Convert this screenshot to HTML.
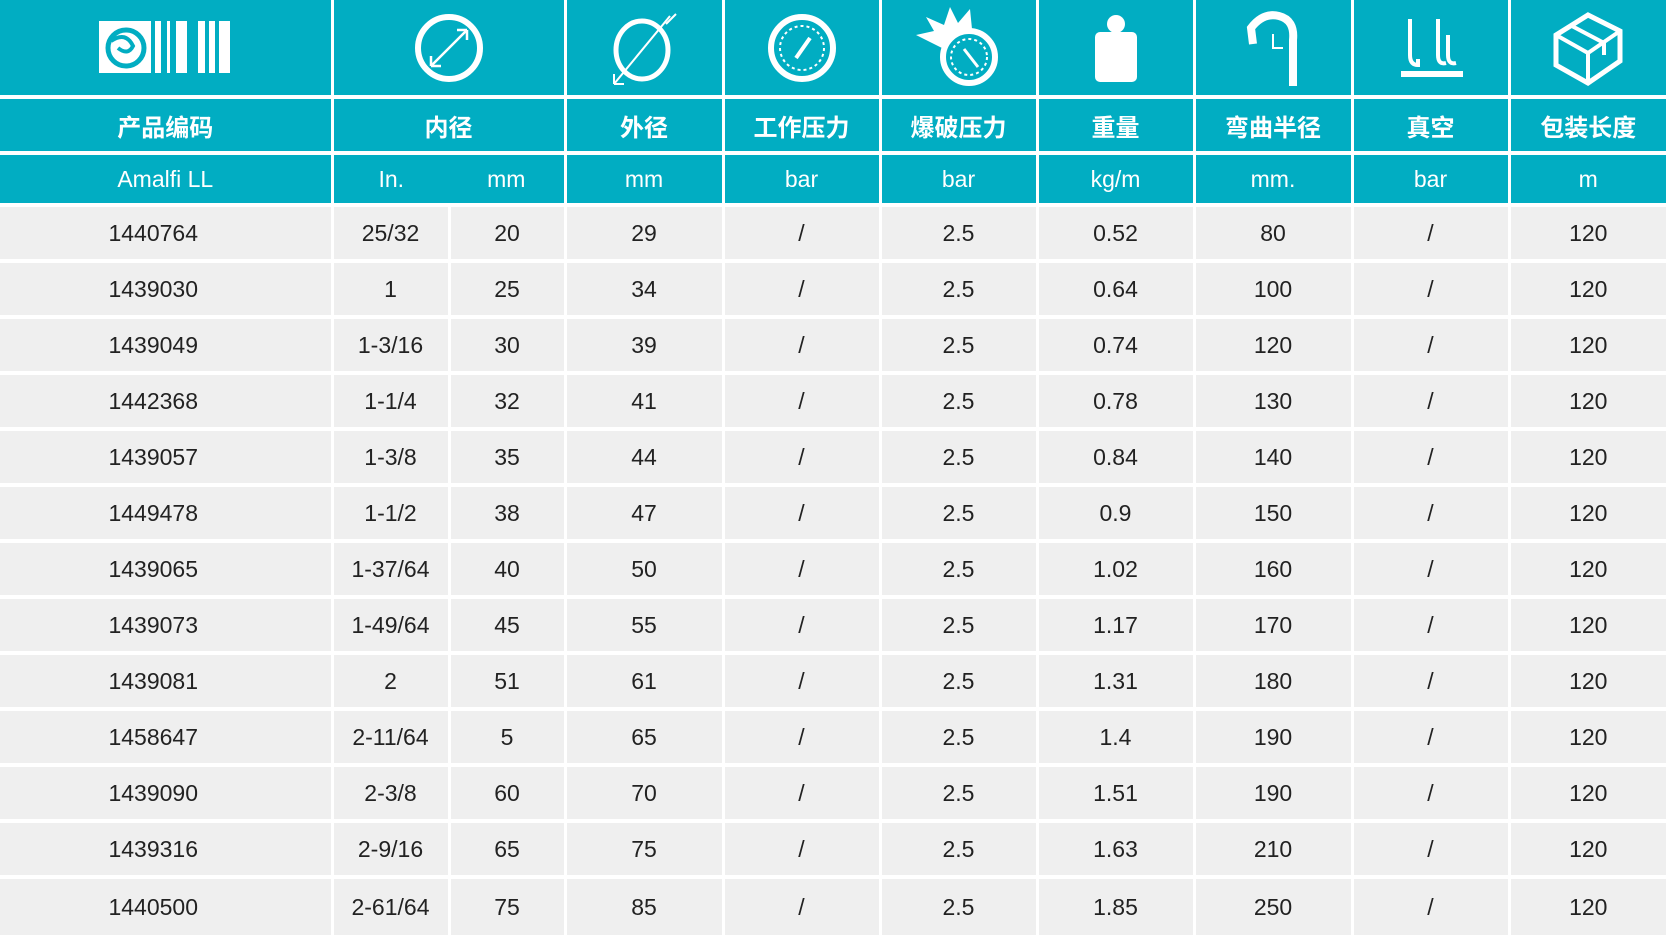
<!DOCTYPE html>
<html><head><meta charset="utf-8"><style>
html,body{margin:0;padding:0;background:#fff;width:1666px;height:935px;overflow:hidden}
table{border-collapse:collapse;table-layout:fixed;width:1666px;font-family:"Liberation Sans","Noto Sans CJK SC",sans-serif}
td{padding:0;text-align:center;vertical-align:middle;border-right:3px solid #fff;border-bottom:4px solid #fff;box-sizing:border-box}
td:last-child{border-right:none}
.h td{background:#01adc2;color:#fff}
.i td{height:97px}
.c td{height:56px;font-weight:bold;font-size:24px;font-family:"Noto Sans CJK SC",sans-serif}
.u td{height:52px;font-size:23px}
.d td{background:#efefef;color:#222;height:56px;font-size:23px}
.d td:first-child{padding-right:24px}
.d:last-child td{height:58px;border-bottom:none}
svg{display:block;margin:0 auto}
</style></head><body>
<table>
<colgroup><col style="width:332px"><col style="width:117px"><col style="width:116px"><col style="width:158px"><col style="width:157px"><col style="width:157px"><col style="width:157px"><col style="width:158px"><col style="width:157px"><col style="width:157px"></colgroup>
<tr class="h i">
<td><svg width="132" height="54" viewBox="0 0 132 54"><rect x="0" y="0" width="52" height="52" fill="#fff"/><circle cx="27" cy="27" r="18" fill="none" stroke="#01adc2" stroke-width="5"/><path d="M12 20 q15 -10 22 5 q-5 10 -15 2" fill="none" stroke="#01adc2" stroke-width="4"/><rect x="56" y="0" width="6" height="52" fill="#fff"/><rect x="68" y="0" width="3" height="52" fill="#fff"/><rect x="77" y="0" width="11" height="52" fill="#fff"/><rect x="99" y="0" width="7" height="52" fill="#fff"/><rect x="110" y="0" width="6" height="52" fill="#fff"/><rect x="120" y="0" width="11" height="52" fill="#fff"/></svg></td>
<td colspan="2"><svg width="72" height="72" viewBox="0 0 72 72"><circle cx="36" cy="36" r="31" fill="none" stroke="#fff" stroke-width="6"/><path d="M18 54 L54 18 M18 54 l0 -10 M18 54 l10 0 M54 18 l-10 0 M54 18 l0 10" stroke="#fff" stroke-width="2.5" fill="none"/></svg></td>
<td><svg width="76" height="76" viewBox="0 0 76 76"><ellipse cx="36" cy="40" rx="26" ry="29" fill="none" stroke="#fff" stroke-width="5"/><path d="M8 74 L64 6 M8 74 l0 -10 M8 74 l10 0 M70 4 l-10 10" stroke="#fff" stroke-width="2" fill="none"/></svg></td>
<td><svg width="72" height="72" viewBox="0 0 72 72"><circle cx="36" cy="36" r="31" fill="none" stroke="#fff" stroke-width="6"/><circle cx="36" cy="36" r="22" fill="none" stroke="#fff" stroke-width="2" stroke-dasharray="3 3"/><path d="M30 46 L44 26" stroke="#fff" stroke-width="4"/></svg></td>
<td><svg width="90" height="86" viewBox="0 0 90 86"><path d="M2 30 L20 26 L12 12 L30 20 L36 2 L44 18 L56 4 L58 24 L30 44 Z" fill="#fff"/><circle cx="55" cy="52" r="26" fill="#01adc2" stroke="#fff" stroke-width="6"/><circle cx="55" cy="52" r="18" fill="none" stroke="#fff" stroke-width="2" stroke-dasharray="3 3"/><path d="M50 44 L64 62" stroke="#fff" stroke-width="3"/></svg></td>
<td><svg width="46" height="68" viewBox="0 0 46 68"><circle cx="23" cy="10" r="9" fill="#fff"/><rect x="2" y="18" width="42" height="50" rx="5" fill="#fff"/></svg></td>
<td><svg width="60" height="76" viewBox="0 0 60 76"><path d="M10 34 L8 18 Q20 2 36 6 Q52 10 50 30 L50 76" fill="none" stroke="#fff" stroke-width="8"/><path d="M30 24 L30 38 L40 38" stroke="#fff" stroke-width="2" fill="none"/></svg></td>
<td><svg width="66" height="66" viewBox="0 0 66 66"><path d="M12 4 L12 40 Q12 50 20 50 L20 44 M40 4 L40 40 Q40 50 48 48 M50 20 L50 40 Q50 50 58 48" fill="none" stroke="#fff" stroke-width="4"/><rect x="3" y="56" width="62" height="6" fill="#fff"/></svg></td>
<td><svg width="72" height="78" viewBox="0 0 72 78"><path d="M36 6 L68 22 L68 52 L36 74 L4 56 L4 26 Z" fill="none" stroke="#fff" stroke-width="5"/><path d="M4 26 L36 44 L68 22 M36 44 L36 74 M18 16 L52 34 L52 46" fill="none" stroke="#fff" stroke-width="4"/></svg></td>
</tr>
<tr class="h c"><td>产品编码</td><td colspan="2">内径</td><td>外径</td><td>工作压力</td><td>爆破压力</td><td>重量</td><td>弯曲半径</td><td>真空</td><td>包装长度</td></tr>
<tr class="h u"><td>Amalfi LL</td><td style="border-right:none">In.</td><td>mm</td><td>mm</td><td>bar</td><td>bar</td><td>kg/m</td><td>mm.</td><td>bar</td><td>m</td></tr>
<tr class="d"><td>1440764</td><td>25/32</td><td>20</td><td>29</td><td>/</td><td>2.5</td><td>0.52</td><td>80</td><td>/</td><td>120</td></tr>
<tr class="d"><td>1439030</td><td>1</td><td>25</td><td>34</td><td>/</td><td>2.5</td><td>0.64</td><td>100</td><td>/</td><td>120</td></tr>
<tr class="d"><td>1439049</td><td>1-3/16</td><td>30</td><td>39</td><td>/</td><td>2.5</td><td>0.74</td><td>120</td><td>/</td><td>120</td></tr>
<tr class="d"><td>1442368</td><td>1-1/4</td><td>32</td><td>41</td><td>/</td><td>2.5</td><td>0.78</td><td>130</td><td>/</td><td>120</td></tr>
<tr class="d"><td>1439057</td><td>1-3/8</td><td>35</td><td>44</td><td>/</td><td>2.5</td><td>0.84</td><td>140</td><td>/</td><td>120</td></tr>
<tr class="d"><td>1449478</td><td>1-1/2</td><td>38</td><td>47</td><td>/</td><td>2.5</td><td>0.9</td><td>150</td><td>/</td><td>120</td></tr>
<tr class="d"><td>1439065</td><td>1-37/64</td><td>40</td><td>50</td><td>/</td><td>2.5</td><td>1.02</td><td>160</td><td>/</td><td>120</td></tr>
<tr class="d"><td>1439073</td><td>1-49/64</td><td>45</td><td>55</td><td>/</td><td>2.5</td><td>1.17</td><td>170</td><td>/</td><td>120</td></tr>
<tr class="d"><td>1439081</td><td>2</td><td>51</td><td>61</td><td>/</td><td>2.5</td><td>1.31</td><td>180</td><td>/</td><td>120</td></tr>
<tr class="d"><td>1458647</td><td>2-11/64</td><td>5</td><td>65</td><td>/</td><td>2.5</td><td>1.4</td><td>190</td><td>/</td><td>120</td></tr>
<tr class="d"><td>1439090</td><td>2-3/8</td><td>60</td><td>70</td><td>/</td><td>2.5</td><td>1.51</td><td>190</td><td>/</td><td>120</td></tr>
<tr class="d"><td>1439316</td><td>2-9/16</td><td>65</td><td>75</td><td>/</td><td>2.5</td><td>1.63</td><td>210</td><td>/</td><td>120</td></tr>
<tr class="d"><td>1440500</td><td>2-61/64</td><td>75</td><td>85</td><td>/</td><td>2.5</td><td>1.85</td><td>250</td><td>/</td><td>120</td></tr>
</table>
</body></html>
